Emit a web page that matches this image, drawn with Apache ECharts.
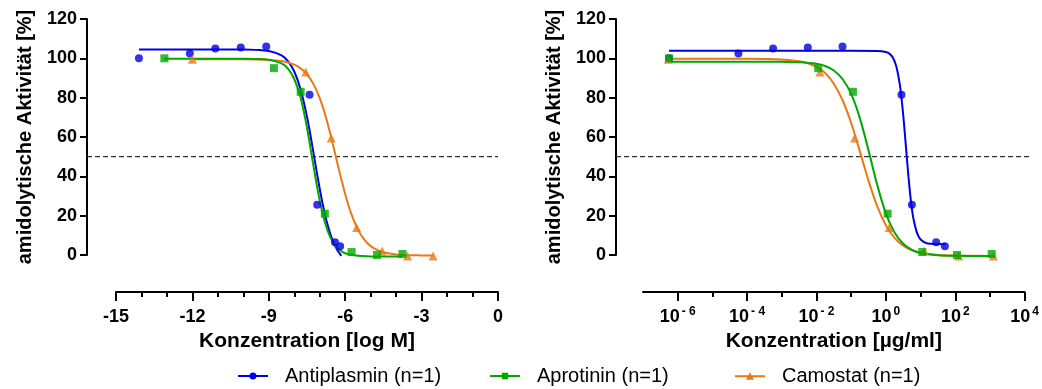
<!DOCTYPE html>
<html>
<head>
<meta charset="utf-8">
<script src="https://cdn.jsdelivr.net/npm/echarts@6/dist/echarts.min.js"></script>
<style>
  html, body { margin: 0; padding: 0; background: #fff; }
  #chart { width: 1042px; height: 389px; }
</style>
</head>
<body>
<div id="chart"></div>
<script>
// ---- measured inhibition (% residual amidolytic activity) ----
const antiplasminPct = [100, 102.5, 105, 105.5, 106, 81.5, 25.5, 6.5, 4.5];
const aprotininPct   = [100, 95, 83, 21, 1.5, 0, 0.5];
const camostatPct    = [99.5, 93, 59.5, 14, 2, -0.5, -0.5];

// concentrations as log10 molar
const antiplasminLogM = [-14.1, -12.1, -11.1, -10.1, -9.1, -7.4, -7.1, -6.4, -6.2];
const aprotininLogM   = [-13.1, -8.8, -7.75, -6.8, -5.75, -4.75, -3.75];
const camostatLogM    = [-12, -7.55, -6.55, -5.55, -4.55, -3.55, -2.55];

// concentrations as log10 µg/ml
const antiplasminLogUg = [-6.25, -4.25, -3.25, -2.25, -1.25, 0.45, 0.75, 1.45, 1.7];
const aprotininLogUg   = [-6.25, -1.95, -0.95, 0.05, 1.05, 2.05, 3.05];
const camostatLogUg    = [-6.27, -1.9, -0.9, 0.1, 1.1, 2.1, 3.1];

// ---- fitted dose-response curves (sampled along each fit) ----
const antiplasminFitLogM = [-14.1, -12, -10, -9.5, -9, -8.5, -8.25, -8, -7.75, -7.5, -7.3, -7.1, -6.9, -6.7, -6.5, -6.3, -6.15];
const antiplasminFitPct  = [104.5, 104.5, 104.5, 104.3, 103.7, 101.5, 98.6, 93.3, 84.2, 70.3, 56.1, 40.9, 26.9, 15.7, 7.6, 2.3, -0.4];
const aprotininFitLogM = [-13.1, -11, -10, -9.5, -9, -8.5, -8.25, -8, -7.75, -7.5, -7.3, -7.1, -6.9, -6.7, -6.5, -6.25, -6, -5.5, -5, -4.5, -3.75];
const aprotininFitPct  = [99.8, 99.8, 99.8, 99.7, 99.3, 97.4, 94.8, 89.5, 79.9, 64.7, 49.5, 34.4, 21.7, 12.7, 6.9, 2.9, 0.9, -0.4, -0.7, -0.8, -0.8];
const camostatFitLogM = [-12, -10, -9, -8.5, -8, -7.75, -7.5, -7.25, -7, -6.75, -6.5, -6.25, -6, -5.75, -5.5, -5.25, -5, -4.75, -4.5, -4, -3.5, -3, -2.55];
const camostatFitPct  = [99.5, 99.5, 99.2, 98.6, 96.8, 94.9, 91.9, 87, 79.8, 69.7, 57.2, 43.6, 30.9, 20.5, 12.9, 7.8, 4.5, 2.6, 1.4, 0.3, -0.1, -0.2, -0.3];

const antiplasminFitLogUg = [-6.25, -3, -1, -0.25, 0, 0.1, 0.2, 0.3, 0.4, 0.45, 0.5, 0.55, 0.6, 0.65, 0.7, 0.75, 0.8, 0.9, 1, 1.2, 1.45, 1.72];
const antiplasminFitPctUg = [103.8, 103.8, 103.8, 103.7, 103.2, 102.4, 100.4, 96, 86.9, 79.9, 71.2, 61.1, 50.4, 40.1, 31, 23.6, 18, 11.1, 7.9, 5.9, 5.6, 5.5];
const aprotininFitLogUg = [-6.25, -4, -3.5, -3, -2.5, -2, -1.75, -1.5, -1.25, -1, -0.75, -0.5, -0.25, 0, 0.25, 0.5, 0.75, 1, 1.5, 2, 3.05];
const aprotininFitPctUg = [98.3, 98.3, 98.3, 98.2, 98, 97.2, 96.1, 93.8, 89.5, 81.9, 69.6, 53.2, 35.7, 21.2, 11.4, 5.7, 2.6, 1, -0.1, -0.4, -0.5];
const camostatFitLogUg = [-6.27, -4, -3.5, -3, -2.5, -2.25, -2, -1.75, -1.5, -1.25, -1, -0.75, -0.5, -0.25, 0, 0.25, 0.5, 0.75, 1, 1.5, 2, 3.1];
const camostatFitPctUg = [99.8, 99.8, 99.7, 99.4, 98.5, 97.5, 95.6, 92.5, 87.1, 78.8, 67.1, 52.7, 37.8, 24.8, 15.1, 8.7, 4.7, 2.4, 1.1, 0, -0.3, -0.5];

// axis ticks
const logMTicks = { min: -15, max: 0, step: 3 };
const ugMajorExp = [-6, -4, -2, 0, 2, 4];
const ugMinorExp = [-5, -3, -1, 1, 3];
const halfActivity = 50;

// legend names
const names = ['Antiplasmin (n=1)', 'Aprotinin (n=1)', 'Camostat (n=1)'];
const colors = ['#0000e0', '#00a800', '#e87a14'];
const symbols = ['circle', 'rect', 'triangle'];
const symbolSizes = [8, 8, 9];

const FONT = "'Liberation Sans', Arial, sans-serif";

const pair = (xs, ys) => xs.map((x, i) => [x, ys[i]]);

const axisLineStyle = { show: true, onZero: false, lineStyle: { color: '#000', width: 2 } };
const labelStyle = { color: '#000', fontFamily: FONT, fontWeight: 'bold', fontSize: 18 };
const nameStyle = { color: '#000', fontFamily: FONT, fontWeight: 'bold', fontSize: 20 };

function yAxisFor(grid, offset) {
  return {
    gridIndex: grid, type: 'value', min: 0, max: 120, interval: 20, offset: offset,
    axisLine: axisLineStyle, splitLine: { show: false },
    axisTick: { show: true, length: 7, lineStyle: { color: '#000', width: 2 } },
    axisLabel: Object.assign({}, labelStyle, { margin: 10 }),
    name: 'amidolytische Aktivität [%]', nameLocation: 'middle', nameGap: 52, nameRotate: 90,
    nameTextStyle: nameStyle
  };
}
const hiddenAxis = (grid, min, max) => ({ gridIndex: grid, type: 'value', min: min, max: max, show: false });

function curve(name, idx, xAxis, yAxis, xs, ys) {
  return {
    name: name, type: 'line', xAxisIndex: xAxis, yAxisIndex: yAxis,
    data: pair(xs, ys), showSymbol: false, smooth: 0.35,
    clip: false, z: 3, color: colors[idx],
    lineStyle: { color: colors[idx], width: 2 }
  };
}
function points(name, idx, xAxis, yAxis, xs, ys) {
  return {
    name: name, type: 'scatter', xAxisIndex: xAxis, yAxisIndex: yAxis,
    data: pair(xs, ys), symbol: symbols[idx], symbolSize: symbolSizes[idx],
    clip: false, z: 4, color: colors[idx], itemStyle: { color: colors[idx] }
  };
}
function refLine(xAxis, yAxis) {
  return {
    type: 'line', xAxisIndex: xAxis, yAxisIndex: yAxis, silent: true, z: 1,
    data: [[0, halfActivity], [1, halfActivity]], showSymbol: false,
    lineStyle: { color: '#333', width: 1.2, type: [5, 3] }
  };
}

const legendIcons = [
  'path://M0,3L30,3L30,5L0,5Z M15,0.5A3.5,3.5 0 1 1 14.99,0.5Z',
  'path://M0,3L30,3L30,5L0,5Z M11.8,0.8L18.2,0.8L18.2,7.2L11.8,7.2Z',
  'path://M0,3L30,3L30,5L0,5Z M15,0L19,7.5L11,7.5Z'
];
// one legend block per compound, laid out in columns
const legendLeft = [238, 490, 735];

const option = {
  animation: false,
  backgroundColor: '#fff',
  textStyle: { fontFamily: FONT },
  grid: [
    { left: 116, top: 19, width: 382, height: 236 },
    { left: 87,  top: 19, width: 411, height: 236 },
    { left: 643, top: 19, width: 383, height: 236 },
    { left: 616, top: 19, width: 414, height: 236 }
  ],
  xAxis: [
    {
      gridIndex: 0, type: 'value', position: 'bottom',
      min: logMTicks.min, max: logMTicks.max, interval: logMTicks.step, offset: 37,
      axisLine: axisLineStyle, splitLine: { show: false },
      axisTick: { show: true, length: 9, lineStyle: { color: '#000', width: 2 } },
      minorTick: { show: true, splitNumber: 3, length: 5, lineStyle: { color: '#000', width: 2 } },
      axisLabel: Object.assign({}, labelStyle, { margin: 16 }),
      name: 'Konzentration [log M]', nameLocation: 'middle', nameGap: 37,
      nameTextStyle: Object.assign({}, nameStyle, { fontSize: 21 })
    },
    hiddenAxis(1, 0, 1),
    {
      gridIndex: 2, type: 'value', position: 'bottom', min: -7, max: 4, offset: 37,
      axisLine: axisLineStyle, splitLine: { show: false },
      axisTick: { show: true, length: 9, customValues: ugMajorExp, lineStyle: { color: '#000', width: 2 } },
      axisLabel: Object.assign({}, labelStyle, {
        margin: 14, customValues: ugMajorExp,
        formatter: v => '{b|10}{s|' + String(v).replace('-', '- ') + '}',
        rich: {
          b: { fontFamily: FONT, fontWeight: 'bold', fontSize: 18, color: '#000', lineHeight: 22 },
          s: { fontFamily: FONT, fontWeight: 'bold', fontSize: 12, color: '#000', lineHeight: 12, verticalAlign: 'top', padding: [0, 0, 0, 2] }
        }
      }),
      name: 'Konzentration [µg/ml]', nameLocation: 'middle', nameGap: 37,
      nameTextStyle: Object.assign({}, nameStyle, { fontSize: 21 })
    },
    {
      gridIndex: 2, type: 'value', position: 'bottom', min: -7, max: 4, offset: 37,
      axisLine: { show: false, onZero: false }, splitLine: { show: false }, axisLabel: { show: false },
      axisTick: { show: true, length: 5, customValues: ugMinorExp, lineStyle: { color: '#000', width: 2 } }
    },
    hiddenAxis(3, 0, 1)
  ],
  yAxis: [
    yAxisFor(0, 29),
    hiddenAxis(1, 0, 120),
    yAxisFor(2, 27),
    hiddenAxis(3, 0, 120)
  ],
  legend: names.map((n, i) => ({
    left: legendLeft[i], top: 366, padding: 0, itemWidth: 30, itemHeight: 8,
    textStyle: { color: '#000', fontFamily: FONT, fontSize: 20, padding: [0, 0, 0, 12] },
    data: [{ name: n, icon: legendIcons[i], itemStyle: { color: colors[i] } }]
  })),
  series: [
    refLine(1, 1),
    refLine(4, 3),
    // log M panel
    curve(names[0], 0, 0, 0, antiplasminFitLogM, antiplasminFitPct),
    points(names[0], 0, 0, 0, antiplasminLogM, antiplasminPct),
    curve(names[2], 2, 0, 0, camostatFitLogM, camostatFitPct),
    points(names[2], 2, 0, 0, camostatLogM, camostatPct),
    curve(names[1], 1, 0, 0, aprotininFitLogM, aprotininFitPct),
    points(names[1], 1, 0, 0, aprotininLogM, aprotininPct),
    // µg/ml panel
    curve(names[0], 0, 2, 2, antiplasminFitLogUg, antiplasminFitPctUg),
    points(names[0], 0, 2, 2, antiplasminLogUg, antiplasminPct),
    curve(names[2], 2, 2, 2, camostatFitLogUg, camostatFitPctUg),
    points(names[2], 2, 2, 2, camostatLogUg, camostatPct),
    curve(names[1], 1, 2, 2, aprotininFitLogUg, aprotininFitPctUg),
    points(names[1], 1, 2, 2, aprotininLogUg, aprotininPct)
  ]
};

const chart = echarts.init(document.getElementById('chart'), null, { renderer: 'canvas' });
chart.setOption(option);
</script>
</body>
</html>
